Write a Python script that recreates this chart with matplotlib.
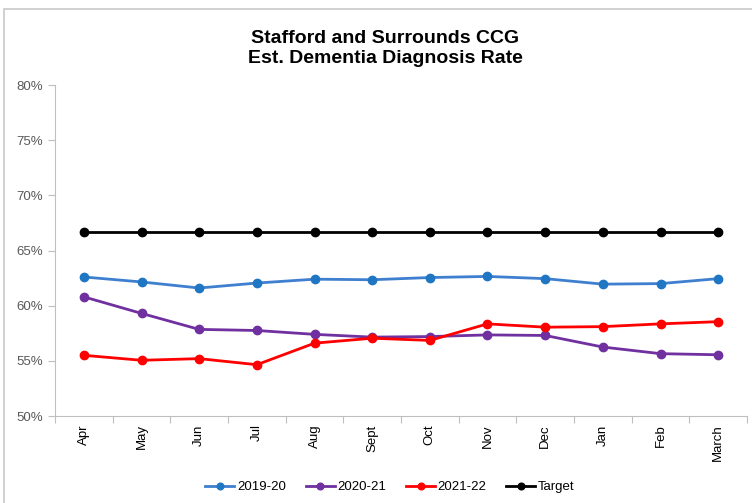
import numpy as np
import matplotlib.pyplot as plt
from matplotlib.patches import Rectangle
from matplotlib.ticker import FixedLocator, PercentFormatter

plt.rcParams["font.family"] = ["Liberation Sans", "DejaVu Sans"]

months = ["Apr", "May", "Jun", "Jul", "Aug", "Sept", "Oct", "Nov", "Dec", "Jan", "Feb", "March"]
rate_1920 = [62.6, 62.15, 61.6, 62.05, 62.4, 62.35, 62.55, 62.65, 62.45, 61.95, 62.0, 62.45]
rate_2021 = [60.8, 59.3, 57.85, 57.75, 57.4, 57.15, 57.2, 57.35, 57.3, 56.25, 55.65, 55.55]
rate_2122 = [55.5, 55.05, 55.2, 54.65, 56.6, 57.05, 56.85, 58.35, 58.05, 58.1, 58.35, 58.55]
target = [66.7] * 12

series = [
    ("2019-20", rate_1920, "#3f7fd0", "#1f77c4"),
    ("2020-21", rate_2021, "#7030a0", "#7030a0"),
    ("2021-22", rate_2122, "#ff0000", "#ff0000"),
    ("Target", target, "#000000", "#000000"),
]

fig = plt.figure(figsize=(7.52, 5.03), dpi=100)
fig.patches.append(Rectangle((4 / 752, -0.1), 1.2, (503 - 9) / 503 + 0.1,
                             transform=fig.transFigure, fill=False,
                             edgecolor="#c8c8c8", linewidth=1.2))
ax = fig.add_axes([55 / 752, 87 / 503, 692 / 752, 331 / 503])

x = np.arange(len(months))
for name, vals, lc, mc in series:
    ax.plot(x, vals, color=lc, linewidth=2, marker="o", markersize=6,
            markerfacecolor=mc, markeredgecolor=mc, label=name)

ax.set_xlim(-0.5, len(months) - 0.5)
ax.set_ylim(50, 80)
ax.set_yticks(np.arange(50, 81, 5))
ax.yaxis.set_major_formatter(PercentFormatter(decimals=0))

ax.xaxis.set_major_locator(FixedLocator(np.arange(-0.5, len(months), 1)))
ax.xaxis.set_minor_locator(FixedLocator(x))
ax.set_xticklabels([])
ax.set_xticklabels(months, minor=True, rotation=90, fontsize=9.5)
ax.tick_params(axis="x", which="major", length=5, color="#bfbfbf")
ax.tick_params(axis="x", which="minor", length=0, pad=6)
ax.tick_params(axis="y", length=5, color="#bfbfbf", labelsize=9.5, labelcolor="#595959")

for s in ["top", "right"]:
    ax.spines[s].set_visible(False)
ax.spines["left"].set_color("#bfbfbf")
ax.spines["bottom"].set_color("#bfbfbf")

# two title lines placed separately
fig.text(385 / 752, 1 - 43 / 503, "Stafford and Surrounds CCG",
         ha="center", va="baseline", fontsize=14, fontweight="bold")
fig.text(385 / 752, 1 - 63 / 503, "Est. Dementia Diagnosis Rate",
         ha="center", va="baseline", fontsize=14, fontweight="bold")

fig.legend(loc="center", bbox_to_anchor=(390 / 752, 1 - 487 / 503), ncol=4,
           frameon=False, fontsize=9.5, handlelength=2.2, handletextpad=0.2,
           columnspacing=1.5, markerscale=0.8)

fig.savefig("out.png", dpi=100)
